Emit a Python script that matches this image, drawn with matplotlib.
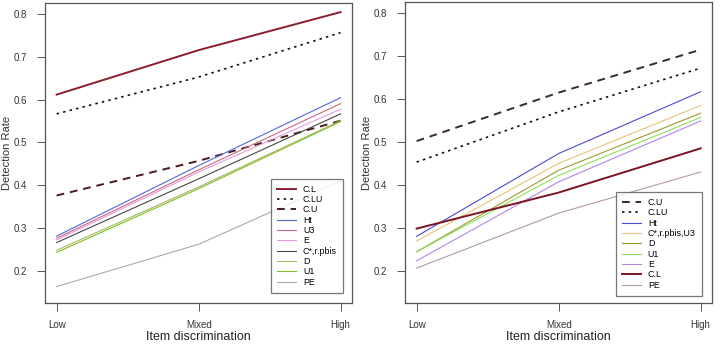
import matplotlib
matplotlib.use("Agg")
import matplotlib.pyplot as plt

plt.rcParams["font.family"] = ["Liberation Sans", "DejaVu Sans"]

levels = ["Low", "Mixed", "High"]
x = [1, 2, 3]

# left panel
left_names = ["C.L", "C.LU", "C.U", "Ht", "U3", "E", "C*,r.pbis", "D", "U1", "PE"]
left_cl = [0.612, 0.716, 0.805]
left_clu = [0.567, 0.653, 0.757]
left_cu = [0.376, 0.457, 0.551]
left_ht = [0.281, 0.446, 0.605]
left_u3 = [0.276, 0.436, 0.591]
left_e = [0.272, 0.431, 0.578]
left_cr = [0.266, 0.415, 0.567]
left_d = [0.248, 0.396, 0.551]
left_u1 = [0.243, 0.392, 0.549]
left_pe = [0.163, 0.262, 0.410]

# right panel
right_names = ["C.U", "C.LU", "Ht", "C*,r.pbis,U3", "D", "U1", "E", "C.L", "PE"]
right_cu = [0.502, 0.615, 0.715]
right_clu = [0.453, 0.570, 0.672]
right_ht = [0.280, 0.473, 0.617]
right_cru3 = [0.269, 0.450, 0.585]
right_d = [0.244, 0.434, 0.567]
right_u1 = [0.244, 0.422, 0.557]
right_e = [0.223, 0.407, 0.549]
right_cl = [0.298, 0.382, 0.485]
right_pe = [0.206, 0.334, 0.430]

left_series = [left_cl, left_clu, left_cu, left_ht, left_u3, left_e,
               left_cr, left_d, left_u1, left_pe]
left_styles = [
    dict(color="#8b1e2e", lw=1.4, ls="-"),
    dict(color="#111111", lw=1.2, ls=(0, (1.5, 2.5))),
    dict(color="#4a1c1c", lw=1.4, ls=(0, (4, 3))),
    dict(color="#5566d8", lw=0.8, ls="-"),
    dict(color="#c86a80", lw=0.8, ls="-"),
    dict(color="#e79bdc", lw=0.8, ls="-"),
    dict(color="#454545", lw=0.8, ls="-"),
    dict(color="#a8b86a", lw=0.8, ls="-"),
    dict(color="#80c020", lw=0.8, ls="-"),
    dict(color="#aaaaaa", lw=0.8, ls="-"),
]

right_series = [right_cu, right_clu, right_ht, right_cru3, right_d,
                right_u1, right_e, right_cl, right_pe]
right_styles = [
    dict(color="#3a2a2a", lw=1.4, ls=(0, (4, 3))),
    dict(color="#111111", lw=1.2, ls=(0, (1.5, 2.5))),
    dict(color="#4a4ad0", lw=0.8, ls="-"),
    dict(color="#e8c27a", lw=0.8, ls="-"),
    dict(color="#9a9a2e", lw=0.8, ls="-"),
    dict(color="#8ee05a", lw=0.8, ls="-"),
    dict(color="#b484ec", lw=0.8, ls="-"),
    dict(color="#7a1424", lw=1.4, ls="-"),
    dict(color="#b39aa2", lw=0.8, ls="-"),
]

fig = plt.figure(figsize=(7.2, 3.45), dpi=100)
ax1 = fig.add_axes([0.0625, 0.121, 0.426, 0.870])
ax2 = fig.add_axes([0.5625, 0.121, 0.426, 0.873])


def draw_panel(ax, series, styles, names, legend_anchor):
    for vals, st, name in zip(series, styles, names):
        ax.plot(x, vals, label=name, **st)
    ax.set_xlim(0.918, 3.078)
    ax.set_ylim(0.124, 0.826)
    ax.set_xticks(x)
    ax.set_xticklabels(levels)
    ax.set_yticks([0.2, 0.3, 0.4, 0.5, 0.6, 0.7, 0.8])
    ax.tick_params(axis="both", direction="out", length=6, width=0.7,
                   colors="#555555", labelcolor="#333333", labelsize=7)
    ax.tick_params(axis="x", pad=6)
    ax.tick_params(axis="y", pad=7)
    for sp in ax.spines.values():
        sp.set_color("#555555")
        sp.set_linewidth(0.9)
    ax.set_xlabel("Item discrimination", fontsize=9, color="#222222", labelpad=1)
    ax.set_ylabel("Detection Rate", fontsize=8, color="#333333")
    ax.yaxis.set_label_coords(-0.108, 0.5)
    leg = ax.legend(loc="lower right", bbox_to_anchor=legend_anchor,
                    fontsize=6.4, frameon=True, fancybox=False,
                    handlelength=2.1, handletextpad=0.8, labelspacing=0.15,
                    borderpad=0.7, borderaxespad=0)
    leg.get_frame().set_edgecolor("#555555")
    leg.get_frame().set_linewidth(0.9)


draw_panel(ax1, left_series, left_styles, left_names, (0.972, 0.034))
draw_panel(ax2, right_series, right_styles, right_names, (0.968, 0.024))

fig.savefig("out.png", dpi=100)
